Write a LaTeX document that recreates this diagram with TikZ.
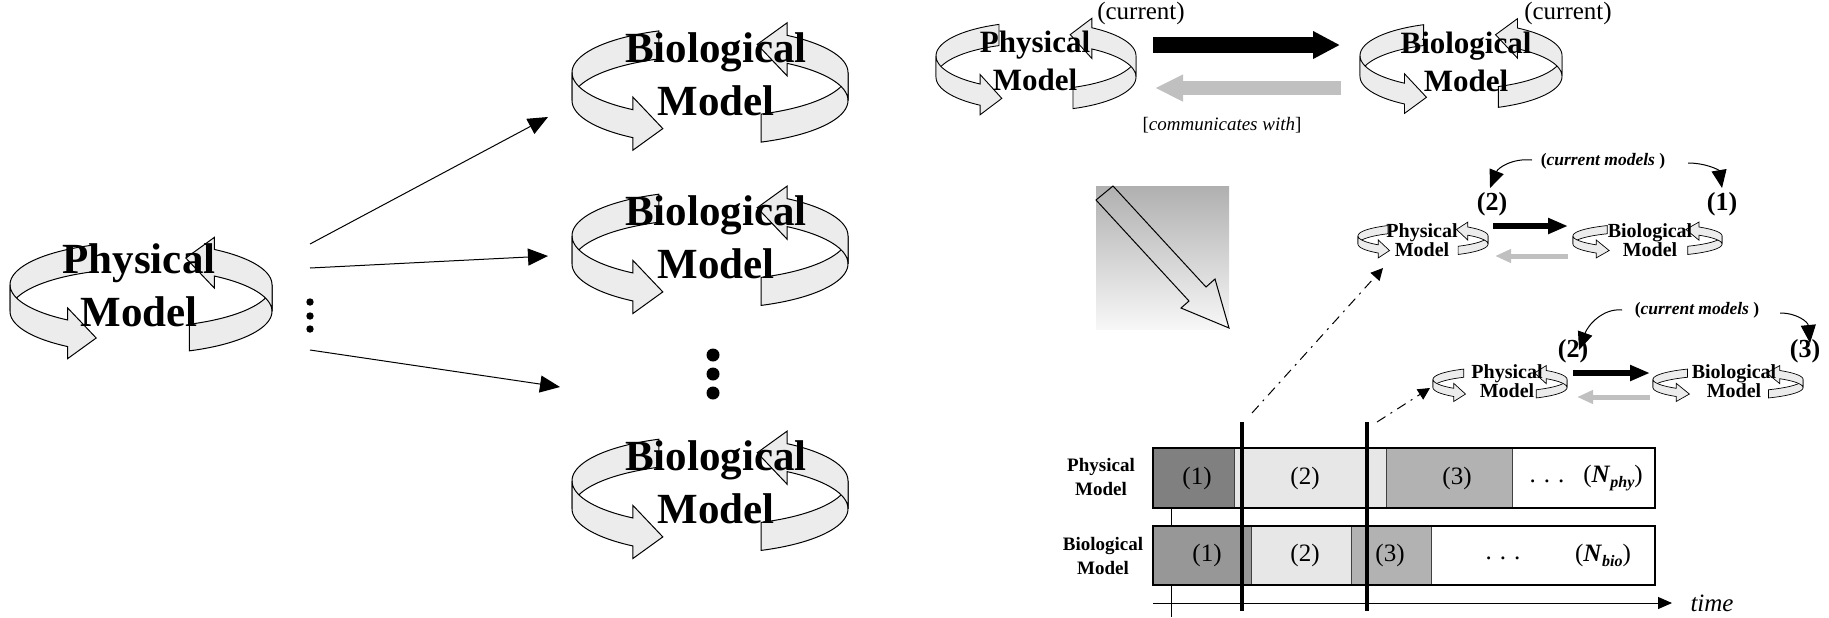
\documentclass[tikz,border=0pt]{standalone}
\usepackage{fontspec}
\setmainfont{Liberation Serif}
\usetikzlibrary{arrows.meta}
\definecolor{dk}{HTML}{808080}
\definecolor{bd}{HTML}{979797}
\definecolor{md}{HTML}{B2B2B2}
\definecolor{lt}{HTML}{E7E7E7}
\definecolor{gry}{HTML}{C0C0C0}
\tikzset{
  rib/.style={fill=gray!15,draw=black,line width=0.5pt,line join=miter},
  bigt/.style={font=\fontsize{21.5}{26.5}\selectfont\bfseries,align=center,inner sep=0pt},
  topt/.style={font=\fontsize{15.5}{19}\selectfont\bfseries,align=center,inner sep=0pt},
  smt/.style={font=\fontsize{10}{9.5}\selectfont\bfseries,align=center,inner sep=0pt},
  curtxt/.style={font=\fontsize{12.5}{14}\selectfont,inner sep=0pt},
  curmod/.style={font=\fontsize{8.75}{10}\selectfont\bfseries,inner sep=0pt},
  numtxt/.style={font=\fontsize{13}{15}\selectfont\bfseries,inner sep=0pt},
  tltxt/.style={font=\fontsize{12.5}{14}\selectfont,inner sep=0pt},
  rowl/.style={font=\fontsize{9.5}{12}\selectfont\bfseries,align=center,inner sep=0pt},
  segbox/.style={draw=black!75,line width=0.4pt},
  fanarrow/.style={line width=0.5pt,-{Triangle[length=10pt,width=8.5pt]}},
  dasharrow/.style={line width=0.5pt,dash pattern=on 5pt off 3pt on 1pt off 3pt,-{Triangle[length=6pt,width=6pt]}},
  curvarrow/.style={line width=0.5pt,-{Triangle[length=9pt,width=7.5pt]}},
}
% #1 ry, #2 half band, #3 tail angle, #4 head base angle, #5 tip angle, #6 head half width
\newcommand\ribhalf[6]{%
  \filldraw[rib] plot[domain=#3:180,samples=25] ({cos(\x)},{#2+#1*sin(\x)})
    -- plot[domain=180:#3,samples=25] ({cos(\x)},{-#2+#1*sin(\x)}) -- cycle;
  \filldraw[rib] plot[domain=180:#4,samples=25] ({cos(\x)},{#2+#1*sin(\x)})
    -- ({cos(#4)},{#1*sin(#4)+#6}) -- ({cos(#5)},{#1*sin(#5)}) -- ({cos(#4)},{#1*sin(#4)-#6})
    -- plot[domain=#4:180,samples=25] ({cos(\x)},{-#2+#1*sin(\x)}) -- cycle;}
\newcommand\bigrib{\ribhalf{0.32}{0.1}{111.7}{236}{250}{0.19}}
\newcommand\smallrib{\ribhalf{0.3}{0.1}{122.7}{226.4}{239}{0.22}}
\newcommand\cyclepic[6]{%
  \begin{scope}[shift={(#1,#2)},xscale=#3,yscale=#4,rib/.append style={line width=#5}]
    #6
    \begin{scope}[rotate=180]#6\end{scope}
  \end{scope}}
\begin{document}
\begin{tikzpicture}[x=0.5pt,y=0.5pt]
\path[use as bounding box] (0,0) rectangle (1829,-617);

% ---------- left part ----------
\cyclepic{141}{-298}{131}{133}{0.5pt}{\bigrib}
\node[bigt] (phys) at (139,-285) {Physical\\Model};

\cyclepic{710}{-86.5}{138}{140}{0.5pt}{\bigrib}
\node[bigt] (bio1) at (716,-74) {Biological\\Model};
\cyclepic{710}{-249.8}{138}{140}{0.5pt}{\bigrib}
\node[bigt] (bio2) at (716,-237) {Biological\\Model};
\cyclepic{710}{-494.8}{138}{140}{0.5pt}{\bigrib}
\node[bigt] (bio3) at (716,-482) {Biological\\Model};

\coordinate (s1) at (310,-244); \coordinate (e1) at (548,-117);
\coordinate (s2) at (310,-268); \coordinate (e2) at (548,-256);
\coordinate (s3) at (310,-350); \coordinate (e3) at (560,-387);
\draw[fanarrow] (s1) -- (e1);
\draw[fanarrow] (s2) -- (e2);
\draw[fanarrow] (s3) -- (e3);
\foreach \yy in {302,316,329} \fill (310,-\yy) circle[radius=1.85pt];
\foreach \yy in {355,374,393} \fill (713,-\yy) circle[radius=3.25pt];

% ---------- top right ----------
\cyclepic{1036}{-66.5}{100}{106}{0.45pt}{\bigrib}
\node[topt] (tphys) at (1035,-61) {Physical\\Model};
\node[curtxt] (tcur1) at (1141,-13) {(current)};
\cyclepic{1461}{-66}{101}{104}{0.45pt}{\bigrib}
\node[topt] (tbio) at (1466,-62) {Biological\\Model};
\node[curtxt] (tcur2) at (1568,-13) {(current)};
\coordinate (ba1) at (1153,-45); \coordinate (ba2) at (1340,-45);
\coordinate (ga1) at (1341,-88); \coordinate (ga2) at (1155,-88);
\draw[line width=8pt,-{Triangle[length=13.5pt,width=13pt]}] (ba1) -- (ba2);
\draw[gry,line width=7pt,-{Triangle[length=14pt,width=12.5pt]}] (ga1) -- (ga2);
\node[font=\fontsize{9.5}{11}\selectfont,inner sep=0pt] (comm) at (1222,-125) {[\textit{communicates with}]};

% ---------- gradient box with block arrow ----------
\shade[top color=black!31,bottom color=black!3] (1096,-186) rectangle (1229,-329);
\draw[line width=0.5pt,line join=miter] (1096,-200) -- (1113,-186) -- (1206,-287) -- (1215,-279)
  -- (1229,-328) -- (1181,-308) -- (1189,-301) -- cycle;

% ---------- group 1 ----------
\cyclepic{1423}{-240}{65}{41}{0.35pt}{\smallrib}
\node[smt] (g1p) at (1422,-240) {Physical\\Model};
\cyclepic{1647.5}{-240}{74.5}{41}{0.35pt}{\smallrib}
\node[smt] (g1b) at (1650,-240) {Biological\\Model};
\draw[line width=3pt,-{Triangle[length=10pt,width=7.5pt]}] (1493,-226) -- (1568,-226);
\draw[gry,line width=2.5pt,-{Triangle[length=8pt,width=6.5pt]}] (1568,-256) -- (1495,-256);
\node[curmod] (cm1) at (1603,-161) {(\textit{current models} )};
\node[numtxt] (n12) at (1492,-204) {(2)};
\node[numtxt] (n11) at (1722,-204) {(1)};
\coordinate (c1a) at (1532,-160); \coordinate (c1b) at (1490,-188);
\coordinate (c1c) at (1688,-163); \coordinate (c1d) at (1722,-188);
\draw[curvarrow] (c1a) .. controls (1512,-158) and (1498,-168) .. (c1b);
\draw[curvarrow] (c1c) .. controls (1706,-163) and (1719,-170) .. (c1d);

% ---------- group 2 ----------
\cyclepic{1500}{-383.5}{67}{41}{0.35pt}{\smallrib}
\node[smt] (g2p) at (1507,-381) {Physical\\Model};
\cyclepic{1728}{-383.5}{75}{41}{0.35pt}{\smallrib}
\node[smt] (g2b) at (1734,-381) {Biological\\Model};
\draw[line width=3pt,-{Triangle[length=10pt,width=7.5pt]}] (1573,-373) -- (1650,-373);
\draw[gry,line width=2.5pt,-{Triangle[length=8pt,width=6.5pt]}] (1650,-397) -- (1577,-397);
\node[curmod] (cm2) at (1697,-310) {(\textit{current models} )};
\node[numtxt] (n22) at (1573,-351) {(2)};
\node[numtxt] (n23) at (1805,-351) {(3)};
\coordinate (c2a) at (1622,-310); \coordinate (c2b) at (1579,-350);
\coordinate (c2c) at (1780,-313); \coordinate (c2d) at (1810,-343);
\draw[curvarrow] (c2a) .. controls (1603,-308) and (1588,-325) .. (c2b);
\draw[curvarrow] (c2c) .. controls (1797,-313) and (1808,-322) .. (c2d);

% ---------- timeline ----------
\draw[line width=0.5pt] (1171,-452) -- (1171,-617);
\filldraw[segbox,fill=dk] (1153,-448) rectangle (1234,-508);
\filldraw[segbox,fill=lt] (1234,-448) rectangle (1386,-508);
\filldraw[segbox,fill=md] (1386,-448) rectangle (1512,-508);
\filldraw[segbox,fill=white] (1512,-448) rectangle (1655,-508);
\draw[line width=0.6pt] (1153,-448) rectangle (1655,-508);
\filldraw[segbox,fill=bd] (1153,-526) rectangle (1251,-585);
\filldraw[segbox,fill=lt] (1251,-526) rectangle (1351,-585);
\filldraw[segbox,fill=md] (1351,-526) rectangle (1431,-585);
\filldraw[segbox,fill=white] (1431,-526) rectangle (1655,-585);
\draw[line width=0.6pt] (1153,-526) rectangle (1655,-585);

\node[tltxt] (p1) at (1197,-478) {(1)};
\node[tltxt] (p2) at (1305,-478) {(2)};
\node[tltxt] (p3) at (1457,-478) {(3)};
\node[tltxt] (pd) at (1547,-481) {.\hspace{4pt}.\hspace{4pt}.};
\node[tltxt] (pn) at (1613,-478) {(\textbf{\textit{N}}\raisebox{-0.45ex}{\fontsize{8}{9}\selectfont\bfseries\itshape phy})};
\node[tltxt] (b1) at (1207,-555) {(1)};
\node[tltxt] (b2) at (1305,-555) {(2)};
\node[tltxt] (b3) at (1390,-555) {(3)};
\node[tltxt] (bdots) at (1503,-558) {.\hspace{4pt}.\hspace{4pt}.};
\node[tltxt] (bn) at (1603,-555) {(\textbf{\textit{N}}\raisebox{-0.45ex}{\fontsize{8}{9}\selectfont\bfseries\itshape bio})};

\node[rowl] (rp) at (1101,-477) {Physical\\Model};
\node[rowl] (rb) at (1103,-556) {Biological\\Model};

\coordinate (ax0) at (1153,-603); \coordinate (ax1) at (1672,-603);
\draw[line width=0.5pt,-{Triangle[length=7pt,width=6pt]}] (ax0) -- (ax1);
\node[font=\fontsize{12.5}{14}\selectfont\itshape,inner sep=0pt] (time) at (1712,-603) {time};

\draw[line width=2pt] (1242,-422) -- (1242,-611);
\draw[line width=2pt] (1367,-422) -- (1367,-611);

\coordinate (d1a) at (1252,-413); \coordinate (d1b) at (1383,-268);
\coordinate (d2a) at (1377,-422); \coordinate (d2b) at (1430,-388);
\draw[dasharrow] (d1a) -- (d1b);
\draw[dasharrow] (d2a) -- (d2b);
\end{tikzpicture}
\end{document}
